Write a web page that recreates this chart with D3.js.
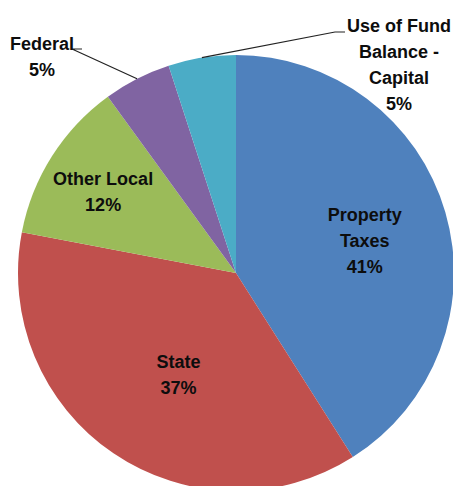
<!DOCTYPE html>
<meta charset="utf-8">
<style>
    body { margin: 0; background: #fff; }
    .lbl {
        font: bold 18px "Liberation Sans", Arial, sans-serif;
        fill: #0d0d0d;
        text-anchor: middle;
    }
</style>
<body>
<script src="https://d3js.org/d3.v7.min.js"></script>
<script>
    // chart data
    let categories = ["Property Taxes", "State", "Other Local", "Federal", "Use of Fund Balance - Capital"];
    let shares = [41, 37, 12, 5, 5];
    let colors = ["#4F81BD", "#C0504D", "#9BBB59", "#8064A2", "#4BACC6"];
    // label text lines per slice
    let labelLines = [
        ["Property", "Taxes"],
        ["State"],
        ["Other Local"],
        ["Federal"],
        ["Use of Fund", "Balance -", "Capital"]
    ];

    let width = 453;
    let height = 486;
    let cx = 236, cy = 273, radius = 218;

    let svg = d3.select("body").append("svg")
        .attr("width", width)
        .attr("height", height);

    let g = svg.append("g")
        .attr("transform", "translate(" + cx + "," + cy + ")");

    let data = categories.map(function(c, i) {
        return {name: c, value: shares[i], color: colors[i], lines: labelLines[i]};
    });

    let pie = d3.pie()
        .sort(null)
        .value(function(d) { return d.value; });

    let arc = d3.arc().innerRadius(0).outerRadius(radius);

    let arcs = pie(data);

    g.selectAll("path")
        .data(arcs)
        .join("path")
            .attr("d", arc)
            .attr("fill", function(d) { return d.data.color; });

    // label placement: inside labels sit on a centroid arc, outside ones get a leader line
    let labelPos = [
        {r: 132, dx: 2, dy: 5, outside: false},
        {r: 122, dx: 11, dy: 1, outside: false},
        {r: 155, dx: -2, dy: 2, outside: false},
        {x: 42, y: 50, outside: true, leader: [[72, 49], [82, 49]]},
        {x: 399, y: 32, outside: true, leader: [[335, 32], [345, 32]]}
    ];
    let lineH = 26;

    arcs.forEach(function(a, i) {
        let p = labelPos[i];
        let lines = a.data.lines.concat([a.data.value + "%"]);
        let x, y;
        if (!p.outside) {
            let c = d3.arc().innerRadius(p.r).outerRadius(p.r).centroid(a);
            x = cx + c[0] + p.dx;
            // vertical centre of block -> first baseline
            y = cy + c[1] - (lines.length - 1) * lineH / 2 + 6 + p.dy;
        } else {
            x = p.x;
            y = p.y;
            // leader from slice edge to label
            let mid = (a.startAngle + a.endAngle) / 2;
            let edge = [cx + radius * Math.sin(mid), cy - radius * Math.cos(mid)];
            let pts = [edge, p.leader[0], p.leader[1]];
            svg.append("path")
                .attr("d", d3.line()(pts))
                .attr("fill", "none")
                .attr("stroke", "#222")
                .attr("stroke-width", 1.2);
        }
        let t = svg.append("text").attr("class", "lbl");
        lines.forEach(function(l, k) {
            t.append("tspan")
                .attr("x", x)
                .attr("y", y + k * lineH)
                .text(l);
        });
    });
</script>
</body>
